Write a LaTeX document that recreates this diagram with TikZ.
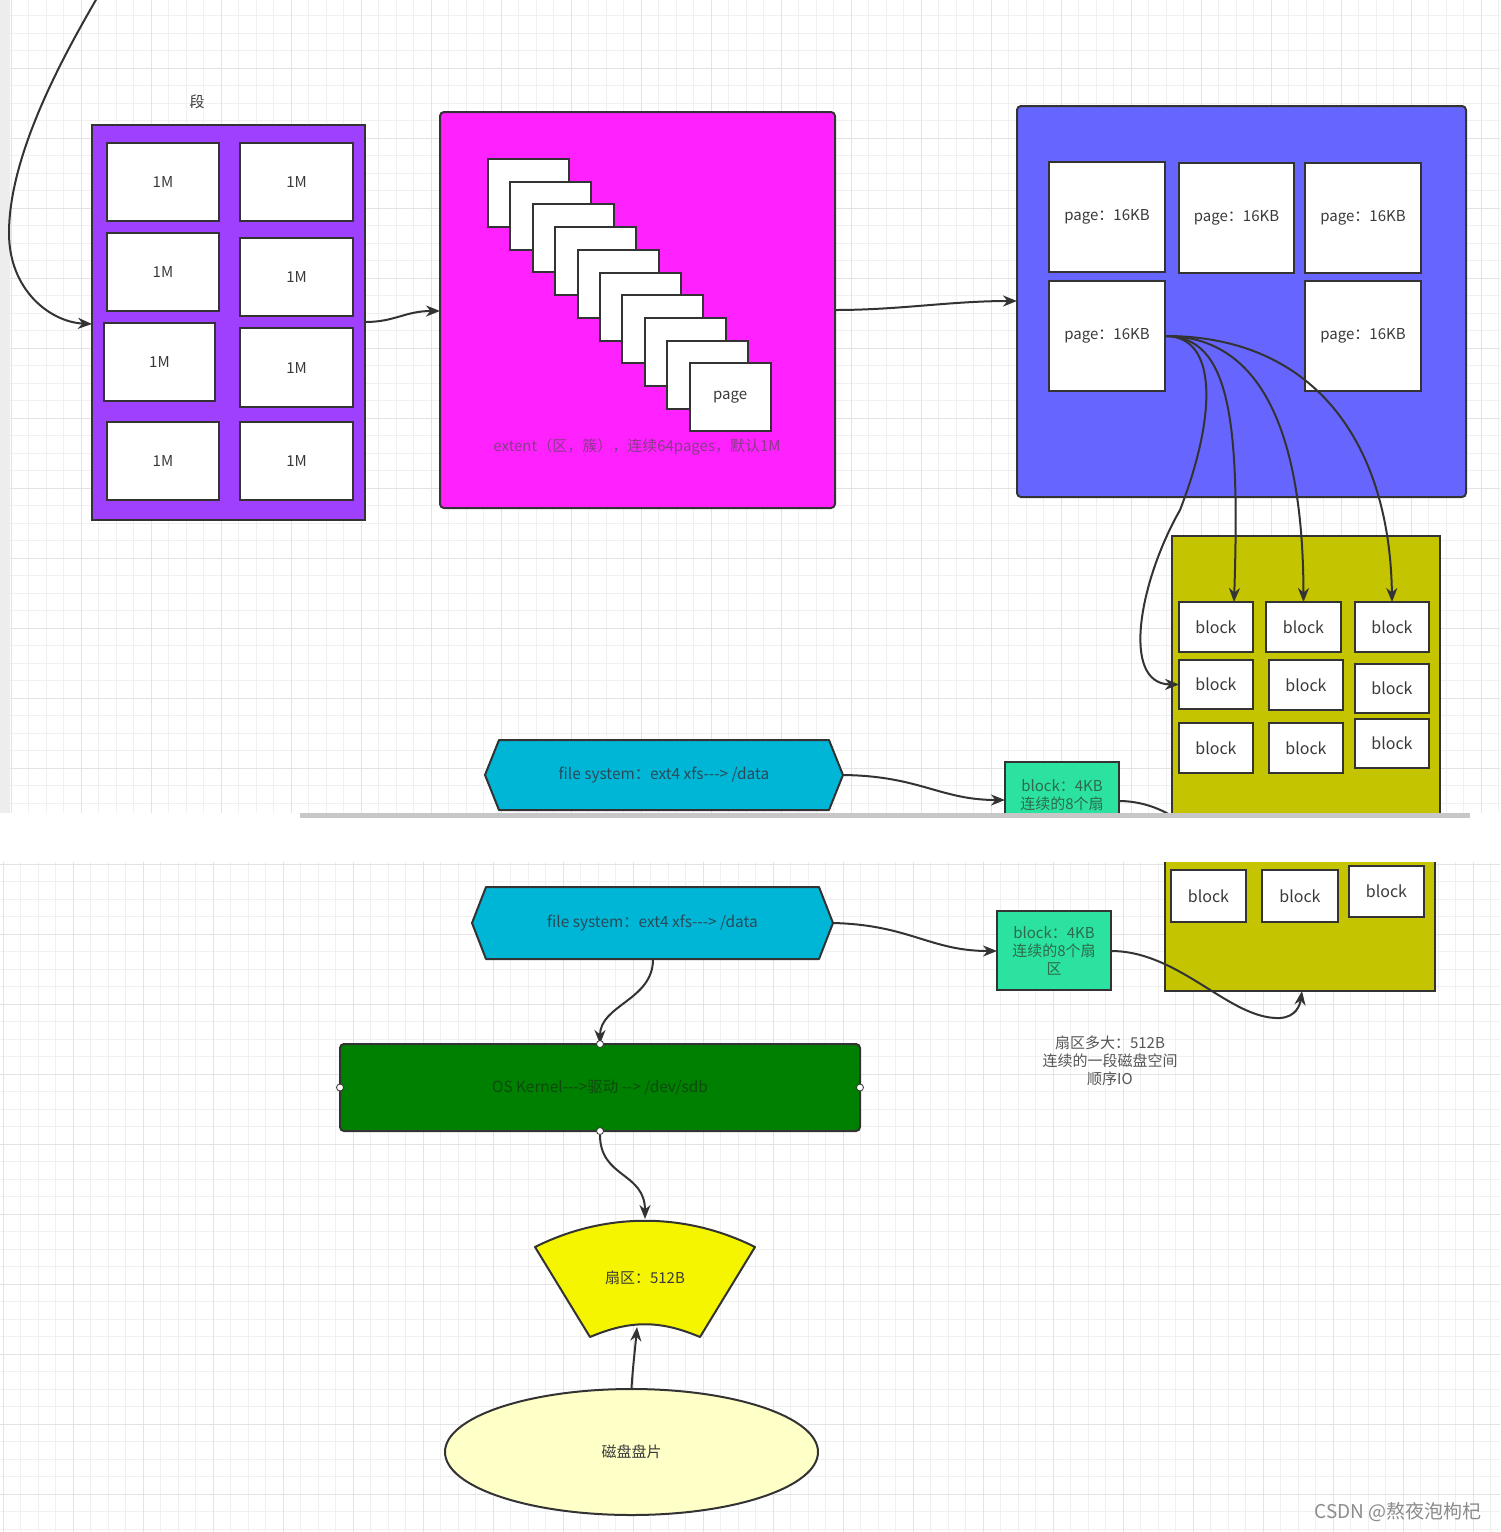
\documentclass[tikz,border=0pt]{standalone}
\usepackage{fontspec}
\setmainfont{Noto Sans CJK SC}[Ligatures=TeXOff]
\usetikzlibrary{arrows.meta,shapes.geometric,calc}
\definecolor{cPurp}{HTML}{A040FF}
\definecolor{cMag}{HTML}{FF22FF}
\definecolor{cBlue}{HTML}{6666FF}
\definecolor{cOlive}{HTML}{C4C400}
\definecolor{cCyan}{HTML}{00B6D6}
\definecolor{cTeal}{HTML}{2BE2A0}
\definecolor{cGreen}{HTML}{008000}
\definecolor{cYel}{HTML}{F5F500}
\definecolor{cPale}{HTML}{FFFFC8}
\definecolor{cLine}{HTML}{333333}
\definecolor{cTxt}{HTML}{3A3A3A}
\definecolor{cExt}{HTML}{8A3A8A}
\definecolor{cHexT}{HTML}{2A4A58}
\definecolor{cTealT}{HTML}{2F6B4A}
\definecolor{cKernT}{HTML}{0E4A0E}
\definecolor{cNote}{HTML}{555555}
\definecolor{cStrip}{HTML}{EDEDED}
\newcommand\fsz[1]{\fontsize{#1pt}{9pt}\selectfont}
\newcommand\mybox[7][]{\node[#1,minimum width={(#5-#3)*0.5pt},minimum height={(#6-#4)*0.5pt}] (#2) at ({(#3+#5)/2},{(#4+#6)/2}) {#7};}
\tikzset{
  gmin/.style={draw=black!6,line width=0.4pt},
  gmaj/.style={draw=black!11,line width=0.5pt},
  wbox/.style={draw=cLine,line width=1pt,fill=white,inner sep=0pt,outer sep=0pt,text=cTxt,font=\fsz{7.5}},
  bbox/.style={wbox,font=\fsz{8}},
  cont/.style={draw=cLine,line width=1pt,inner sep=0pt,outer sep=0pt},
  arr/.style={draw=cLine,line width=1pt,-{Stealth[length=7pt,width=5.5pt,inset=2.2pt]}},
  con/.style={draw=cLine,line width=1pt},
  handle/.style={circle,draw=cLine,fill=white,line width=0.4pt,minimum size=3.5pt,inner sep=0pt},
}
\begin{document}
\begin{tikzpicture}[x=0.5pt,y=-0.5pt]
\useasboundingbox (0,0) rectangle (1500,1532);
\fill[white] (0,0) rectangle (1500,1532);
%================ TOP PANEL =================
\begin{scope}
\clip (0,0) rectangle (1500,813);
\foreach \i in {0,...,86} \draw[gmin] ({11+\i*17.5},0) -- ({11+\i*17.5},813);
\foreach \j in {0,...,47} \draw[gmin] (0,{-2+\j*17.5}) -- (1500,{-2+\j*17.5});
\foreach \i in {0,...,21} \draw[gmaj] ({11+\i*70},0) -- ({11+\i*70},813);
\foreach \j in {0,...,12} \draw[gmaj] (0,{-2+\j*70}) -- (1500,{-2+\j*70});
\fill[cStrip] (0,0) rectangle (10,813);

% segment
\node[text=cTxt,font=\fsz{7.5}] (seglbl) at (197,102) {段};
\mybox[cont,fill=cPurp]{seg}{92}{125}{365}{520}{}
\mybox[wbox]{m1}{107}{143}{219}{221}{1M}
\mybox[wbox]{m2}{240}{143}{353}{221}{1M}
\mybox[wbox]{m3}{107}{233}{219}{311}{1M}
\mybox[wbox]{m4}{240}{238}{353}{316}{1M}
\mybox[wbox]{m5}{104}{323}{215}{401}{1M}
\mybox[wbox]{m6}{240}{328}{353}{407}{1M}
\mybox[wbox]{m7}{107}{422}{219}{500}{1M}
\mybox[wbox]{m8}{240}{422}{353}{500}{1M}
\coordinate (offtop) at (97,-2);
\draw[arr] (offtop) .. controls (70,45) and (9,150) .. (9,233) .. controls (9,290) and (50,322) .. (seg.west |- 0,324);

% extent
\mybox[cont,fill=cMag,rounded corners=2pt]{ext}{440}{112}{835}{508}{}
\foreach \k in {0,...,8} \node[wbox,minimum width=40.5pt,minimum height=34pt] (pg\k) at ({528.5+\k*22.4},{193+\k*22.7}) {};
\node[wbox,minimum width=40.5pt,minimum height=34pt] (pg9) at ({528.5+9*22.4},{193+9*22.7}) {page};
\node[text=cExt,font=\fsz{7.5}] (extlbl) at (637,447) {extent（区，簇），连续64pages，默认1M};
\draw[arr] (seg.east |- 0,322) .. controls (395,322) and (405,311) .. (ext.west |- 0,311);

% pages container
\mybox[cont,fill=cBlue,rounded corners=2pt]{pgs}{1017}{106}{1466}{497}{}
\mybox[wbox]{p1}{1049}{162}{1165}{272}{page：16KB}
\mybox[wbox]{p2}{1179}{163}{1294}{273}{page：16KB}
\mybox[wbox]{p3}{1305}{163}{1421}{273}{page：16KB}
\mybox[wbox]{p4}{1049}{281}{1165}{391}{page：16KB}
\mybox[wbox]{p5}{1305}{281}{1421}{391}{page：16KB}
\draw[arr] (ext.east |- 0,310) .. controls (900,310) and (950,301) .. (pgs.west |- 0,301);

% blocks container
\mybox[cont,fill=cOlive]{blkA}{1172}{536}{1440}{870}{}
\mybox[bbox]{b11}{1179}{602}{1253}{652}{block}
\mybox[bbox]{b12}{1266}{602}{1341}{652}{block}
\mybox[bbox]{b13}{1355}{602}{1429}{652}{block}
\mybox[bbox]{b21}{1179}{660}{1253}{709}{block}
\mybox[bbox]{b22}{1269}{660}{1343}{710}{block}
\mybox[bbox]{b23}{1355}{664}{1429}{713}{block}
\mybox[bbox]{b31}{1179}{723}{1253}{773}{block}
\mybox[bbox]{b32}{1269}{723}{1343}{773}{block}
\mybox[bbox]{b33}{1355}{719}{1429}{768}{block}

\draw[arr] (p4.east) .. controls (1220,336) and (1215,420) .. (1180,510) .. controls (1140,580) and (1120,684) .. (b21.west);
\draw[arr] (p4.east) .. controls (1230,336) and (1240,420) .. ($(b11.north)+(18,0)$);
\draw[arr] (p4.east) .. controls (1260,336) and (1303,430) .. (b12.north);
\draw[arr] (p4.east) .. controls (1320,336) and (1390,450) .. (b13.north);

% file system (top copy)
\node[minimum width=179pt,minimum height=35pt,inner sep=0pt] (fsA) at (664,775) {};
\filldraw[fill=cCyan,draw=cLine,line width=1pt,line join=round] (485,775) -- (499,740) -- (829,740) -- (843,775) -- (829,810) -- (499,810) -- cycle;
\node[text=cHexT,font=\fsz{7.7}] at (fsA) {file system：ext4 xfs---> /data};
\mybox[cont,fill=cTeal]{tealA}{1005}{762}{1119}{841}{}
\node[text=cTealT,font=\fsz{7.5},align=center,anchor=north] at (1062,772) {block：4KB\\连续的8个扇\\区};
\draw[arr] (fsA.east) .. controls (920,776) and (940,800) .. (tealA.west |- 0,800);
\draw[con] (tealA.east |- 0,801) .. controls (1140,801) and (1160,808) .. (1175,818);
\end{scope}
\fill[black!22] (300,813) rectangle (1470,818);

%================ BOTTOM PANEL =================
\begin{scope}
\clip (0,862) rectangle (1500,1532);
\foreach \i in {0,...,86} \draw[gmin] ({3+\i*17.5},862) -- ({3+\i*17.5},1532);
\foreach \j in {0,...,39} \draw[gmin] (0,{864+\j*17.5}) -- (1500,{864+\j*17.5});
\foreach \i in {0,...,21} \draw[gmaj] ({3+\i*70},862) -- ({3+\i*70},1532);
\foreach \j in {0,...,10} \draw[gmaj] (0,{864+\j*70}) -- (1500,{864+\j*70});

\mybox[cont,fill=cOlive]{blkB}{1165}{800}{1435}{991}{}
\mybox[bbox]{c1}{1171}{870}{1246}{922}{block}
\mybox[bbox]{c2}{1262}{870}{1338}{922}{block}
\mybox[bbox]{c3}{1349}{866}{1424}{917}{block}

\node[minimum width=180.5pt,minimum height=36pt,inner sep=0pt] (fsB) at (652.5,923) {};
\filldraw[fill=cCyan,draw=cLine,line width=1pt,line join=round] (472,923) -- (486,887) -- (819,887) -- (833,923) -- (819,959) -- (486,959) -- cycle;
\node[text=cHexT,font=\fsz{7.7}] at (fsB) {file system：ext4 xfs---> /data};

\mybox[cont,fill=cTeal]{tealB}{997}{911}{1111}{990}{}
\node[text=cTealT,font=\fsz{7.5},align=center] at (tealB) {block：4KB\\连续的8个扇\\区};
\draw[arr] (fsB.east) .. controls (910,925) and (930,951) .. (tealB.west |- 0,951);
\draw[arr] (tealB.east |- 0,951) .. controls (1180,951) and (1230,1020) .. (1280,1018) .. controls (1296,1017) and (1300,1005) .. (blkB.south -| 1302,0);

\node[text=cNote,font=\fsz{7.5},align=center] (note) at (1110,1061) {扇区多大：512B\\连续的一段磁盘空间\\顺序IO};

\mybox[cont,fill=cGreen,rounded corners=2pt]{kern}{340}{1044}{860}{1131}{}
\node[text=cKernT,font=\fsz{7.7}] at (kern) {OS Kernel--->驱动 --> /dev/sdb};
\draw[arr] (fsB.south -| 653,0) .. controls (653,1000) and (600,1005) .. (kern.north);
\node[handle] (h1) at (kern.north) {};
\node[handle] (h2) at (kern.south) {};
\node[handle] (h3) at (kern.west) {};
\node[handle] (h4) at (kern.east) {};

\filldraw[fill=cYel,draw=cLine,line width=1pt,line join=round] (535,1247) .. controls (605,1212) and (685,1212) .. (755,1247) -- (700,1337) .. controls (660,1320) and (630,1320) .. (590,1337) -- cycle;
\coordinate (sectop) at (645,1219);
\coordinate (secbot) at (637,1327);
\node[text=cTxt,font=\fsz{7.5}] (sec) at (645,1278) {扇区：512B};
\draw[arr] (h2) .. controls (600,1178) and (645,1172) .. (sectop);

\node[ellipse,draw=cLine,line width=1pt,fill=cPale,minimum width=186.5pt,minimum height=63pt,inner sep=0pt,text=cTxt,font=\fsz{7.5}] (disk) at (631.5,1452) {磁盘盘片};
\draw[arr] (disk.north) .. controls (633,1365) and (635,1350) .. (secbot);

\node[text=black!45,font=\fsz{9.5}] (wm) at (1398,1512) {CSDN @熬夜泡枸杞};
\end{scope}
\end{tikzpicture}
\end{document}
